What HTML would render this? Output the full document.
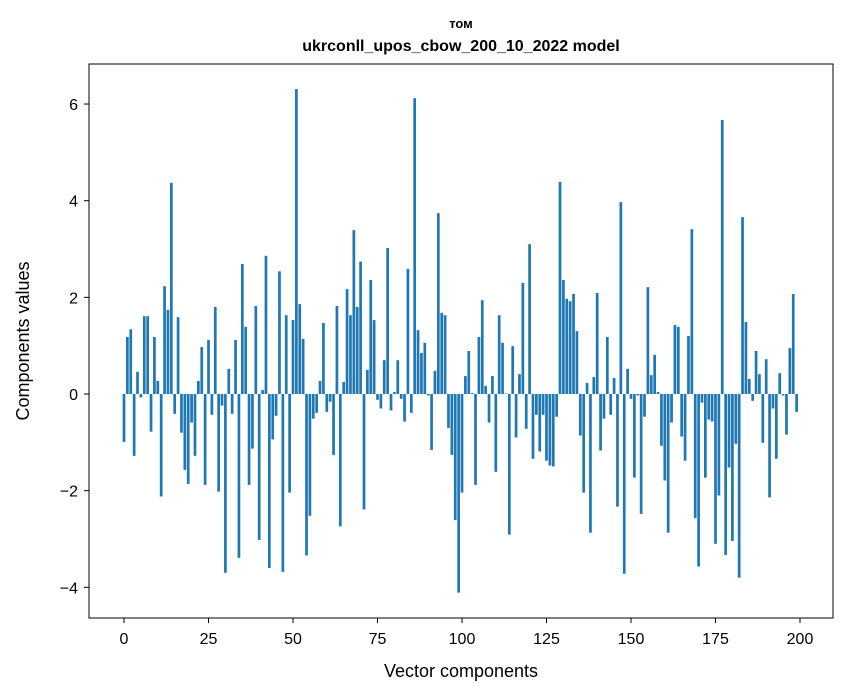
<!DOCTYPE html>
<html><head><meta charset="utf-8"><style>
html,body{margin:0;padding:0;background:#fff;}
svg{display:block;font-family:"Liberation Sans","DejaVu Sans",sans-serif;}
</style></head><body>
<svg id="chart" width="847" height="696" xmlns="http://www.w3.org/2000/svg">
<rect x="0" y="0" width="847" height="696" fill="#fff"/>
<text x="461" y="28" text-anchor="middle" font-size="13" font-weight="bold">том</text>
<text x="461" y="51" text-anchor="middle" font-size="16" font-weight="bold">ukrconll_upos_cbow_200_10_2022 model</text>
<g id="bars"></g>
<g id="xticks"></g>
<g id="yticks"></g>
<rect x="89" y="64" width="744" height="554" fill="none" stroke="#000" stroke-width="1"/>
<text x="461" y="677" text-anchor="middle" font-size="18">Vector components</text>
<text transform="translate(29,341) rotate(-90)" text-anchor="middle" font-size="18">Components values</text>
</svg>
<script>
const values = [-0.99,1.18,1.34,-1.28,0.46,-0.07,1.61,1.61,-0.78,1.18,0.27,-2.12,2.23,1.74,4.37,-0.41,1.59,-0.80,-1.57,-1.86,
-0.59,-1.28,0.27,0.97,-1.88,1.12,-0.43,1.80,-2.02,-0.24,-3.70,0.52,-0.41,1.12,-3.39,2.69,1.39,-1.88,-1.13,1.82,
-3.02,0.08,2.86,-3.60,-0.94,-0.45,2.54,-3.68,1.63,-2.04,1.53,6.31,1.86,1.14,-3.34,-2.52,-0.51,-0.39,0.27,1.47,
-0.37,-0.16,-1.26,1.82,-2.74,0.25,2.17,1.63,3.39,1.80,2.74,-2.39,0.50,2.36,1.53,-0.12,-0.30,0.70,3.02,-0.34,
0.04,0.70,-0.10,-0.57,2.59,-0.39,6.12,1.32,0.85,1.06,-0.03,-1.16,0.48,3.74,1.68,1.63,-0.70,-1.26,-2.61,-4.11,
-2.04,0.37,0.89,0.02,-1.88,1.18,1.94,0.17,-0.59,0.37,-1.61,1.63,1.06,0.01,-2.91,0.99,-0.90,0.41,2.30,-0.72,
3.10,-1.34,-0.43,-1.19,-0.43,-1.38,-1.48,-1.50,-0.47,4.39,2.36,1.97,1.92,2.07,1.30,-0.86,-2.04,0.23,-2.87,0.35,
2.09,-1.17,-0.51,1.18,-0.43,0.33,-2.33,3.97,-3.72,0.52,-0.10,-1.73,-0.03,-2.48,-0.47,2.21,0.39,0.81,0.04,-1.07,
-1.79,-2.87,-0.59,1.43,1.39,-0.88,-1.38,1.20,3.41,-2.57,-3.57,-0.18,-1.73,-0.53,-0.57,-3.10,-2.10,5.67,-3.33,-1.52,
-3.04,-1.03,-3.80,3.66,1.49,0.31,-0.14,0.89,0.41,-1.01,0.72,-2.14,-0.30,-1.34,0.43,-0.03,-0.84,0.95,2.07,-0.37];
const xTickValues = [0,25,50,75,100,125,150,175,200];
const yTickValues = [-4,-2,0,2,4,6];
const yTickLabels = ["\u22124","\u22122","0","2","4","6"];

const NS = "http://www.w3.org/2000/svg";
function xScale(v){ return 124 + v * 3.38; }
function yScale(v){ return 394 - v * 48.33; }
const barW = 0.8 * 3.38;

const gb = document.getElementById('bars');
values.forEach(function(v, i){
  const r = document.createElementNS(NS, 'rect');
  const y0 = yScale(0), y1 = yScale(v);
  r.setAttribute('x', xScale(i) - barW/2);
  r.setAttribute('y', Math.min(y0, y1));
  r.setAttribute('width', barW);
  r.setAttribute('height', Math.max(Math.abs(y1 - y0), 0.3));
  r.setAttribute('fill', '#1f77b4');
  
  
  gb.appendChild(r);
});

const gx = document.getElementById('xticks');
xTickValues.forEach(function(t){
  const x = xScale(t);
  const l = document.createElementNS(NS, 'line');
  l.setAttribute('x1', x); l.setAttribute('x2', x);
  l.setAttribute('y1', 618); l.setAttribute('y2', 623);
  l.setAttribute('stroke', '#000');
  
  
  gx.appendChild(l);
  const tx = document.createElementNS(NS, 'text');
  tx.setAttribute('x', x); tx.setAttribute('y', 644);
  tx.setAttribute('text-anchor', 'middle');
  tx.setAttribute('font-size', '16');
  tx.textContent = String(t);
  
  
  gx.appendChild(tx);
});

const gy = document.getElementById('yticks');
yTickValues.forEach(function(t, i){
  const y = yScale(t);
  const l = document.createElementNS(NS, 'line');
  l.setAttribute('x1', 84); l.setAttribute('x2', 89);
  l.setAttribute('y1', y); l.setAttribute('y2', y);
  l.setAttribute('stroke', '#000');
  
  
  gy.appendChild(l);
  const tx = document.createElementNS(NS, 'text');
  tx.setAttribute('x', 78); tx.setAttribute('y', y + 6);
  tx.setAttribute('text-anchor', 'end');
  tx.setAttribute('font-size', '16');
  tx.textContent = yTickLabels[i];
  
  
  gy.appendChild(tx);
});
</script>
</body></html>
